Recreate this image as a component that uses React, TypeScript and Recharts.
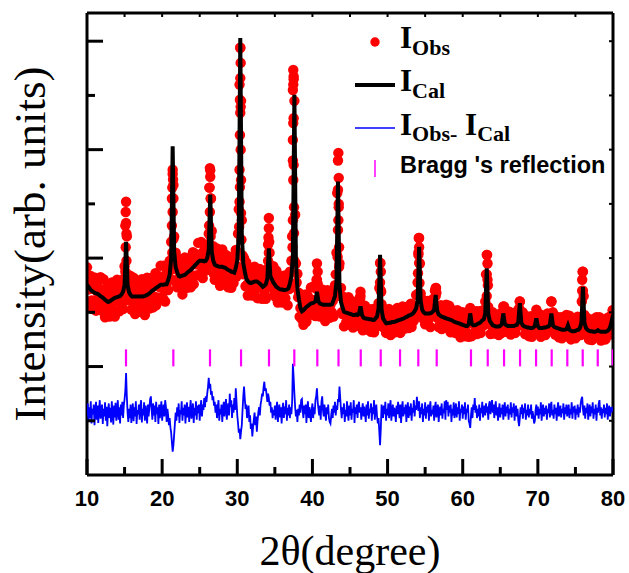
import React from "react";
import { ComposedChart, Line, Scatter, XAxis, YAxis, Legend } from "recharts";

const SERIF = '"Liberation Serif", "Times New Roman", Times, serif';
const SANS = '"Liberation Sans", Arial, Helvetica, sans-serif';
const RED = "#ff0000";
const BLUE = "#0000ff";
const MAGENTA = "#ff00ff";

// calculated profile, one value every 0.2 deg from 10.0 to 80.0
const CAL_START = 10;
const CAL_STEP = 0.2;
const iCal = [
  3.51, 3.47, 3.43, 3.40, 3.38,
  3.36, 3.35, 3.34, 3.32, 3.30,
  3.28, 3.26, 3.23, 3.21, 3.19,
  3.20, 3.22, 3.24, 3.26, 3.27,
  3.28, 3.29, 3.30, 3.33, 3.38,
  3.50, 4.30, 3.50, 3.37, 3.32,
  3.29, 3.29, 3.29, 3.29, 3.29,
  3.29, 3.29, 3.29, 3.30, 3.31,
  3.32, 3.34, 3.36, 3.39, 3.41,
  3.43, 3.45, 3.47, 3.49, 3.51,
  3.51, 3.51, 3.52, 3.52, 3.59,
  3.69, 3.99, 6.06, 4.12, 3.83,
  3.74, 3.67, 3.66, 3.67, 3.68,
  3.69, 3.71, 3.74, 3.76, 3.78,
  3.81, 3.84, 3.87, 3.90, 3.93,
  3.95, 3.95, 3.95, 3.94, 3.95,
  4.00, 4.15, 5.17, 4.12, 3.95,
  3.88, 3.86, 3.85, 3.84, 3.84,
  3.84, 3.83, 3.82, 3.80, 3.78,
  3.77, 3.75, 3.74, 3.73, 3.82,
  3.96, 4.47, 8.06, 4.44, 3.91,
  3.75, 3.62, 3.58, 3.55, 3.54,
  3.55, 3.56, 3.57, 3.57, 3.55,
  3.53, 3.50, 3.47, 3.49, 3.52,
  3.62, 4.18, 3.67, 3.61, 3.55,
  3.51, 3.47, 3.45, 3.43, 3.42,
  3.42, 3.41, 3.41, 3.42, 3.44,
  3.53, 3.66, 4.06, 7.01, 3.96,
  3.44, 3.24, 3.08, 3.02, 3.04,
  3.07, 3.10, 3.12, 3.14, 3.16,
  3.17, 3.18, 3.20, 3.38, 3.20,
  3.16, 3.15, 3.14, 3.14, 3.14,
  3.14, 3.14, 3.14, 3.15, 3.22,
  3.30, 3.56, 5.41, 3.49, 3.19,
  3.09, 3.01, 3.00, 2.99, 2.98,
  2.97, 2.96, 2.95, 2.95, 2.96,
  2.95, 2.97, 3.11, 2.95, 2.90,
  2.89, 2.88, 2.88, 2.87, 2.87,
  2.86, 2.86, 2.89, 2.92, 3.07,
  4.06, 3.05, 2.89, 2.84, 2.80,
  2.80, 2.81, 2.81, 2.82, 2.82,
  2.83, 2.84, 2.85, 2.86, 2.87,
  2.88, 2.89, 2.91, 2.92, 2.94,
  2.95, 2.96, 2.98, 3.02, 3.07,
  3.22, 4.21, 3.21, 3.05, 3.00,
  2.98, 2.98, 2.98, 2.98, 2.99,
  3.01, 3.05, 3.32, 3.03, 2.96,
  2.94, 2.92, 2.91, 2.90, 2.89,
  2.88, 2.87, 2.86, 2.85, 2.83,
  2.82, 2.81, 2.80, 2.79, 2.78,
  2.77, 2.76, 2.75, 2.75, 2.78,
  2.98, 2.79, 2.76, 2.76, 2.77,
  2.79, 2.80, 2.82, 2.85, 2.87,
  2.98, 3.81, 2.97, 2.84, 2.80,
  2.76, 2.75, 2.74, 2.74, 2.74,
  2.75, 2.78, 2.98, 2.79, 2.76,
  2.75, 2.75, 2.75, 2.75, 2.75,
  2.76, 2.77, 2.82, 3.17, 2.81,
  2.76, 2.74, 2.73, 2.72, 2.72,
  2.71, 2.71, 2.72, 2.75, 2.89,
  2.74, 2.71, 2.71, 2.71, 2.72,
  2.72, 2.73, 2.74, 2.77, 2.98,
  2.76, 2.73, 2.72, 2.71, 2.70,
  2.69, 2.68, 2.68, 2.68, 2.69,
  2.76, 2.68, 2.66, 2.65, 2.65,
  2.66, 2.67, 2.68, 2.71, 2.81,
  3.47, 2.81, 2.71, 2.68, 2.66,
  2.65, 2.65, 2.64, 2.64, 2.65,
  2.67, 2.65, 2.64, 2.64, 2.64,
  2.64, 2.65, 2.67, 2.72, 2.82,
  2.95,
];

// observed intensity, one value every 0.1 deg from 10.0 to 80.0
const OBS_START = 10;
const OBS_STEP = 0.1;
const iObs = [
  3.83, 3.42, 3.61, 3.17, 3.43, 3.67, 3.22, 3.46, 3.06, 3.55,
  3.22, 3.64, 3.03, 3.39, 3.55, 3.12, 3.43, 3.27, 3.65, 3.04,
  3.35, 3.02, 3.61, 3.14, 2.91, 3.40, 3.21, 3.48, 3.01, 3.31,
  2.92, 3.35, 3.18, 3.55, 3.06, 3.29, 3.51, 2.92, 3.38, 3.21,
  3.60, 3.22, 3.43, 3.02, 3.30, 3.56, 3.15, 3.42, 3.06, 3.62,
  3.85, 4.60, 5.04, 4.40, 3.70, 3.22, 3.48, 3.30, 3.67, 3.05,
  3.36, 3.04, 3.64, 3.18, 2.97, 3.47, 3.29, 3.57, 3.11, 3.40,
  3.01, 3.43, 3.25, 3.61, 3.11, 3.33, 3.55, 2.95, 3.42, 3.24,
  3.64, 3.26, 3.48, 3.07, 3.36, 3.63, 3.21, 3.47, 3.09, 3.60,
  3.29, 3.72, 3.13, 3.50, 3.68, 3.27, 3.60, 3.46, 3.86, 3.26,
  3.58, 3.26, 3.86, 3.41, 3.20, 3.70, 3.52, 3.84, 3.41, 3.75,
  3.95, 3.62, 4.30, 5.10, 5.55, 5.35, 4.40, 3.80, 4.10, 3.55,
  3.46, 3.85, 3.63, 3.99, 3.48, 3.71, 3.92, 3.33, 3.79, 3.62,
  4.01, 3.63, 3.85, 3.45, 3.74, 4.00, 3.58, 3.84, 3.46, 3.98,
  3.67, 4.11, 3.52, 3.90, 4.08, 3.68, 4.01, 3.88, 4.28, 3.69,
  4.02, 3.70, 4.30, 3.84, 3.63, 4.12, 3.94, 4.22, 3.77, 4.09,
  4.25, 3.85, 4.45, 5.30, 5.62, 5.10, 4.50, 3.95, 4.22, 3.70,
  3.60, 4.01, 3.82, 4.18, 3.67, 3.89, 4.09, 3.49, 3.95, 3.77,
  4.16, 3.77, 3.97, 3.55, 3.82, 4.06, 3.62, 3.86, 3.46, 3.96,
  3.64, 4.02, 3.45, 3.78, 3.94, 3.54, 3.83, 3.75, 4.15, 3.66,
  3.85, 4.45, 4.90, 7.20, 7.88, 6.90, 4.70, 4.05, 3.70, 4.00,
  3.81, 3.48, 3.92, 3.51, 3.31, 3.72, 3.55, 3.79, 3.39, 3.64,
  3.31, 3.68, 3.53, 3.84, 3.42, 3.60, 3.78, 3.26, 3.64, 3.48,
  3.80, 3.46, 3.62, 3.25, 3.47, 3.69, 3.34, 3.57, 3.25, 3.72,
  3.80, 4.25, 4.55, 4.10, 3.65, 3.46, 3.70, 3.55, 3.85, 3.32,
  3.57, 3.28, 3.77, 3.37, 3.18, 3.59, 3.43, 3.67, 3.27, 3.51,
  3.18, 3.54, 3.38, 3.68, 3.26, 3.45, 3.63, 3.13, 3.53, 3.43,
  3.75, 3.45, 3.95, 4.40, 5.80, 7.30, 6.90, 4.80, 3.90, 3.55,
  3.71, 3.28, 3.36, 2.92, 3.08, 3.26, 2.87, 3.09, 2.77, 3.21,
  2.95, 3.33, 2.83, 3.14, 3.30, 2.95, 3.23, 3.12, 3.46, 2.96,
  3.23, 2.97, 3.48, 3.10, 2.93, 3.44, 3.60, 3.53, 3.05, 3.27,
  2.92, 3.28, 3.12, 3.42, 2.99, 3.17, 3.35, 2.84, 3.23, 3.08,
  3.41, 3.08, 3.26, 2.90, 3.14, 3.35, 3.00, 3.21, 2.92, 3.41,
  3.50, 3.70, 4.10, 5.20, 5.80, 5.00, 3.90, 3.30, 3.45, 3.00,
  2.97, 3.29, 2.74, 3.04, 3.18, 2.82, 3.08, 2.96, 3.28, 2.77,
  3.02, 2.79, 3.21, 2.88, 2.72, 3.08, 2.95, 3.16, 2.83, 3.04,
  2.75, 3.06, 2.94, 3.27, 3.30, 3.06, 3.13, 2.67, 2.98, 2.85,
  3.12, 2.84, 2.98, 2.68, 2.88, 3.06, 2.74, 2.92, 2.64, 3.00,
  2.76, 3.06, 2.63, 2.89, 3.01, 2.73, 2.97, 2.88, 3.17, 3.45,
  3.91, 3.40, 3.15, 2.80, 3.05, 2.72, 2.95, 2.82, 2.62, 3.00,
  2.85, 2.62, 3.06, 2.73, 2.58, 2.95, 2.82, 3.02, 2.69, 2.91,
  2.63, 2.94, 2.81, 3.08, 2.72, 2.89, 3.04, 2.62, 2.95, 2.83,
  3.11, 2.84, 2.99, 2.70, 2.91, 3.10, 2.79, 2.98, 2.71, 3.08,
  2.85, 3.16, 2.73, 3.00, 3.13, 2.85, 3.10, 3.02, 3.32, 2.97,
  3.55, 4.10, 4.37, 3.90, 3.35, 3.26, 3.05, 3.22, 2.87, 3.07,
  2.78, 3.08, 2.95, 3.21, 2.85, 3.01, 3.16, 2.73, 3.06, 2.95,
  3.24, 2.98, 3.15, 3.40, 3.45, 3.36, 2.90, 3.05, 2.73, 3.08,
  2.84, 3.13, 2.69, 2.95, 3.06, 2.76, 2.98, 2.87, 3.14, 2.71,
  2.93, 2.70, 3.12, 2.79, 2.63, 2.99, 2.85, 3.04, 2.70, 2.91,
  2.62, 2.92, 2.78, 3.04, 2.67, 2.83, 2.97, 2.54, 2.86, 2.73,
  3.00, 2.72, 2.86, 2.56, 2.75, 2.93, 2.62, 2.82, 2.55, 3.01,
  3.08, 3.00, 2.56, 2.80, 2.91, 2.61, 2.84, 2.74, 3.02, 2.60,
  2.84, 2.64, 3.02, 2.74, 2.62, 2.95, 2.85, 3.04, 2.76, 3.00,
  3.20, 3.70, 4.06, 3.60, 3.10, 2.94, 3.00, 2.60, 2.87, 2.74,
  3.00, 2.76, 2.88, 2.61, 2.78, 2.94, 2.67, 2.82, 2.58, 2.90,
  2.70, 2.99, 2.62, 2.94, 3.11, 2.80, 2.90, 2.80, 3.02, 2.64,
  2.84, 2.63, 3.01, 2.72, 2.59, 2.90, 2.79, 2.97, 2.68, 2.86,
  2.62, 2.90, 2.79, 3.03, 2.75, 3.07, 3.20, 2.95, 2.92, 2.79,
  3.00, 2.75, 2.87, 2.60, 2.77, 2.93, 2.65, 2.80, 2.56, 2.87,
  2.66, 2.93, 2.55, 2.78, 2.89, 2.65, 2.86, 2.84, 3.05, 2.71,
  2.83, 2.61, 2.97, 2.68, 2.55, 2.86, 2.75, 2.94, 2.65, 2.83,
  2.58, 2.86, 2.75, 2.98, 2.67, 2.83, 2.97, 2.95, 3.20, 2.87,
  3.00, 2.75, 2.86, 2.59, 2.76, 2.92, 2.64, 2.79, 2.54, 2.85,
  2.64, 2.91, 2.52, 2.74, 2.85, 2.59, 2.79, 2.71, 2.95, 2.62,
  2.85, 2.60, 2.94, 2.64, 2.50, 2.81, 2.69, 2.87, 2.58, 2.77,
  2.52, 2.80, 2.69, 2.92, 2.61, 2.77, 2.91, 2.58, 2.92, 3.40,
  3.75, 3.30, 2.95, 2.70, 2.85, 2.90, 2.61, 2.75, 2.50, 2.81,
  2.60, 2.87, 2.49, 2.71, 2.81, 2.55, 2.75, 2.67, 2.91, 2.55,
  2.76, 2.54, 2.91, 2.62, 2.48, 2.79, 2.68, 2.86, 2.57, 2.75,
  2.50, 2.78, 2.67, 2.90, 2.60, 2.77, 2.92, 2.59, 2.93, 2.89,
  3.04,
];

// extra observed points on the steep flanks of the peaks [2theta, I]
const obsFlank: [number, number][] = [
  [15.15, 4.85], [15.2, 4.65], [15.25, 4.45], [15.15, 4.2], [15.25, 3.95], [15.1, 3.75], [15.3, 3.6],
  [21.4, 5.63], [21.45, 5.45], [21.35, 5.3], [21.5, 5.1], [21.4, 4.85], [21.3, 4.6], [21.5, 4.35], [21.35, 4.1], [21.55, 3.9],
  [26.35, 5.66], [26.4, 5.5], [26.3, 5.3], [26.45, 5.1], [26.35, 4.85], [26.25, 4.6], [26.45, 4.4], [26.3, 4.15],
  [30.4, 7.88], [30.45, 7.6], [30.4, 7.32], [30.35, 6.92], [30.45, 6.79], [30.4, 6.68], [30.35, 6.27], [30.45, 6.0],
  [30.3, 5.63], [30.5, 5.44], [30.35, 5.31], [30.3, 5.04], [30.5, 4.83], [30.25, 4.58], [30.55, 4.34], [30.2, 4.1],
  [34.2, 4.74], [34.15, 4.38], [34.25, 4.3], [34.2, 4.1], [34.1, 3.95],
  [37.45, 7.47], [37.5, 7.35], [37.45, 7.2], [37.4, 7.1], [37.5, 6.58], [37.45, 6.49], [37.4, 6.18], [37.5, 5.72],
  [37.45, 5.44], [37.55, 4.94], [37.4, 4.7], [37.55, 4.46], [37.35, 4.2], [37.6, 3.95],
  [40.6, 3.9], [40.7, 3.75], [40.55, 3.6],
  [43.45, 5.94], [43.5, 5.48], [43.4, 5.26], [43.5, 4.94], [43.45, 4.7], [43.4, 4.52], [43.55, 4.2], [43.35, 4.02], [43.55, 3.84],
  [46.4, 3.38], [46.35, 3.25],
  [49.05, 3.91], [49.1, 3.75], [49.0, 3.55], [49.15, 3.38],
  [54.15, 4.37], [54.2, 4.2], [54.1, 4.06], [54.2, 3.91], [54.05, 3.72], [54.25, 3.54], [54.1, 3.35],
  [56.45, 3.45], [56.4, 3.3],
  [63.25, 4.06], [63.3, 3.9], [63.2, 3.7], [63.35, 3.5], [63.2, 3.3],
  [65.5, 3.11], [67.6, 3.2], [71.8, 3.2],
  [75.95, 3.75], [75.9, 3.6], [76.0, 3.4], [75.85, 3.2],
  [79.95, 3.04],
];

// difference curve (Obs - Cal, shifted down), one value every 0.1 deg
const iDiff = [
  1.10, 1.32, 0.98, 1.25, 1.05, 1.36, 0.95, 1.22, 1.12, 1.30,
  0.92, 1.18, 1.35, 1.02, 1.28, 0.96, 1.20, 1.38, 1.04, 1.15,
  1.30, 0.94, 1.22, 1.08, 1.34, 1.00, 1.26, 0.90, 1.18, 1.32,
  1.05, 1.24, 0.97, 1.36, 1.12, 0.93, 1.28, 1.06, 1.33, 1.00,
  1.20, 1.38, 1.02, 1.25, 0.95, 1.30, 1.10, 1.35, 1.05, 1.28,
  1.40, 1.55, 1.88, 1.45, 1.15, 0.98, 1.22, 1.05, 1.30, 0.96,
  1.18, 1.32, 0.99, 1.25, 1.08, 1.36, 0.94, 1.20, 1.12, 1.30,
  1.02, 1.26, 1.38, 0.97, 1.22, 1.10, 1.34, 1.00, 1.28, 1.15,
  0.95, 1.30, 1.08, 1.24, 1.40, 1.45, 1.20, 1.02, 1.32, 1.10,
  1.28, 0.98, 1.35, 1.12, 1.25, 0.94, 1.30, 1.05, 1.22, 1.36,
  1.00, 1.18, 1.30, 1.08, 1.38, 1.26, 0.98, 1.22, 1.10, 0.92,
  1.05, 0.88, 0.78, 0.60, 0.43, 0.55, 0.75, 0.95, 1.15, 1.00,
  1.25, 1.08, 1.32, 0.96, 1.20, 1.12, 1.36, 1.00, 1.24, 1.10,
  1.30, 0.95, 1.18, 1.34, 1.06, 1.26, 0.98, 1.22, 1.38, 1.04,
  1.15, 1.32, 0.96, 1.24, 1.10, 1.36, 1.02, 1.28, 1.14, 1.30,
  1.00, 1.25, 1.38, 1.08, 1.30, 1.20, 1.42, 1.25, 1.45, 1.35,
  1.50, 1.62, 1.79, 1.60, 1.68, 1.48, 1.55, 1.38, 1.45, 1.28,
  1.35, 1.15, 1.30, 1.05, 1.25, 1.38, 1.00, 1.22, 1.12, 1.30,
  0.98, 1.20, 1.35, 1.08, 1.28, 1.40, 1.02, 1.18, 1.32, 1.10,
  1.50, 1.25, 1.38, 1.05, 1.30, 1.15, 1.42, 1.20, 1.60, 1.35,
  1.10, 0.95, 0.78, 0.85, 0.66, 0.80, 0.92, 1.20, 1.45, 1.63,
  1.40, 1.22, 1.30, 1.05, 1.18, 1.28, 0.98, 1.10, 0.85, 0.95,
  0.71, 0.88, 1.02, 1.15, 0.92, 1.08, 0.80, 1.00, 1.15, 1.25,
  1.10, 1.30, 1.38, 1.50, 1.45, 1.62, 1.72, 1.55, 1.60, 1.48,
  1.35, 1.50, 1.42, 1.28, 1.35, 1.15, 1.25, 1.05, 1.20, 1.10,
  1.28, 1.02, 1.22, 1.35, 0.98, 1.18, 1.30, 1.06, 1.25, 0.95,
  1.20, 1.33, 1.05, 1.26, 1.12, 1.38, 1.00, 1.24, 1.10, 1.30,
  1.05, 1.25, 1.12, 1.35, 2.05, 1.80, 1.50, 1.25, 1.08, 1.20,
  0.98, 1.22, 1.10, 1.30, 1.15, 1.38, 1.40, 1.20, 1.05, 1.28,
  1.12, 1.30, 0.96, 1.22, 1.36, 1.05, 1.25, 1.15, 0.98, 1.20,
  1.32, 1.05, 1.25, 1.12, 1.38, 1.45, 1.60, 1.35, 1.22, 1.10,
  1.28, 1.02, 1.35, 1.45, 1.20, 1.08, 1.30, 1.15, 1.00, 1.25,
  1.12, 1.30, 1.05, 0.98, 0.95, 1.10, 1.22, 1.05, 1.28, 1.15,
  1.35, 1.10, 1.28, 1.20, 1.40, 1.35, 1.63, 1.42, 1.20, 1.05,
  1.25, 1.12, 1.32, 0.98, 1.20, 1.08, 1.36, 1.15, 1.00, 1.28,
  1.10, 1.34, 1.02, 1.22, 1.15, 1.38, 0.96, 1.25, 1.12, 1.30,
  1.05, 1.28, 1.35, 1.15, 1.25, 1.02, 1.20, 1.32, 1.08, 1.26,
  1.14, 0.98, 1.30, 1.10, 1.36, 1.04, 1.22, 1.15, 1.32, 1.00,
  1.25, 1.12, 1.38, 1.02, 1.20, 1.30, 1.08, 0.95, 1.05, 0.80,
  0.55, 0.85, 1.30, 1.20, 1.05, 1.28, 1.12, 1.35, 1.00, 1.22,
  1.10, 1.32, 1.05, 1.25, 1.38, 1.00, 1.18, 1.30, 1.08, 1.24,
  1.15, 0.98, 1.28, 1.12, 1.35, 1.20, 1.05, 1.30, 0.96, 1.22,
  1.36, 1.08, 1.25, 1.12, 1.30, 0.98, 1.20, 1.34, 1.05, 1.26,
  1.10, 1.32, 1.00, 1.24, 1.15, 1.38, 1.08, 1.28, 1.20, 1.44,
  1.30, 1.18, 1.36, 1.05, 1.25, 1.12, 1.32, 0.98, 1.22, 1.10,
  1.34, 1.04, 1.26, 1.15, 1.30, 1.00, 1.22, 1.36, 1.08, 1.20,
  1.12, 1.28, 1.00, 1.24, 1.35, 1.06, 1.20, 1.30, 0.98, 1.18,
  1.26, 1.10, 1.32, 1.04, 1.22, 1.14, 1.36, 1.02, 1.38, 1.20,
  1.35, 1.08, 1.28, 1.15, 1.30, 0.98, 1.22, 1.10, 1.34, 1.05,
  1.20, 1.32, 1.06, 1.25, 1.12, 1.36, 1.00, 1.22, 1.15, 1.30,
  1.04, 1.26, 1.12, 1.34, 1.02, 1.22, 1.15, 1.30, 1.00, 0.95,
  0.87, 1.10, 1.25, 1.05, 1.30, 1.20, 1.42, 1.15, 1.28, 1.05,
  1.22, 1.08, 1.30, 1.00, 1.24, 1.14, 1.35, 1.06, 1.20, 1.28,
  1.10, 1.32, 1.15, 1.26, 1.02, 1.30, 1.36, 1.12, 1.25, 1.38,
  1.15, 1.30, 1.05, 1.22, 1.36, 1.10, 1.25, 1.00, 1.18, 1.32,
  1.06, 1.24, 1.12, 1.30, 1.02, 1.20, 1.34, 1.08, 1.26, 1.14,
  1.30, 1.02, 1.22, 1.12, 1.34, 1.06, 1.25, 1.15, 1.32, 1.00,
  1.20, 1.28, 1.08, 1.22, 1.00, 0.90, 1.05, 1.25, 1.12, 1.30,
  1.04, 1.24, 1.14, 1.32, 1.02, 1.20, 1.10, 1.30, 1.06, 1.22,
  1.12, 1.30, 1.04, 1.18, 1.08, 0.95, 1.00, 1.20, 1.30, 1.10,
  1.26, 1.04, 1.22, 1.12, 1.34, 1.00, 1.20, 1.30, 1.08, 1.24,
  1.12, 1.28, 1.02, 1.22, 1.14, 1.32, 1.06, 1.26, 1.35, 1.10,
  1.20, 1.04, 1.30, 1.12, 1.24, 1.00, 1.22, 1.34, 1.08, 1.18,
  1.28, 1.06, 1.22, 1.14, 1.32, 1.02, 1.25, 1.12, 1.30, 1.08,
  1.20, 1.30, 1.05, 1.22, 1.12, 1.34, 1.04, 1.26, 1.15, 1.28,
  1.02, 1.22, 1.12, 1.30, 1.06, 1.25, 1.15, 1.32, 1.40, 1.44,
  1.22, 1.10, 1.28, 1.04, 1.24, 1.14, 1.32, 1.02, 1.20, 1.30,
  1.08, 1.26, 1.14, 1.34, 1.04, 1.22, 1.12, 1.30, 1.00, 1.24,
  1.15, 1.32, 1.38, 1.10, 1.25, 1.04, 1.22, 1.14, 1.30, 1.06,
  1.24, 1.12, 1.32, 1.02, 1.20, 1.28, 1.08, 1.25, 1.15, 1.22,
  1.18,
];

// Bragg reflection positions (2theta) and the level where the marks sit
const braggPos = [
  15.19, 21.49, 26.37, 30.5, 34.22, 37.59, 40.65, 43.47, 46.43, 49.09, 51.66, 54.09,
  56.54, 61.1, 63.33, 65.5, 67.63, 69.76, 71.84, 73.92, 75.97, 77.97, 79.96,
];
const BRAGG_LEVEL = 2.16;

const xTicks = [10, 15, 20, 25, 30, 35, 40, 45, 50, 55, 60, 65, 70, 75, 80];
const yTicks = [1, 2, 3, 4, 5, 6, 7, 8];

const at = (start: number, step: number, i: number) => +(start + i * step).toFixed(1);
const calData = iCal.map((y, i) => ({ x: at(CAL_START, CAL_STEP, i), y }));
const obsData = [
  ...iObs.map((y, i) => ({ x: at(OBS_START, OBS_STEP, i), y })),
  ...obsFlank.map(([x, y]) => ({ x, y })),
];
const diffData = iDiff.map((y, i) => ({ x: at(OBS_START, OBS_STEP, i), y }));
const braggData = braggPos.map((x) => ({ x, y: BRAGG_LEVEL }));

const BottomTick = (p: any) => {
  const v = p.payload.value;
  const major = v % 10 === 0;
  return (
    <g>
      <line x1={p.x} x2={p.x} y1={p.y} y2={p.y - (major ? 16 : 8)} stroke="#000" strokeWidth={3} />
      {major && (
        <text x={p.x} y={p.y + 31} textAnchor="middle" fontFamily={SANS} fontWeight="bold" fontSize={22} fill="#000">
          {v}
        </text>
      )}
    </g>
  );
};

const TopTick = (p: any) => (
  <line x1={p.x} x2={p.x} y1={p.y} y2={p.y + 4} stroke="#000" strokeWidth={2} />
);

const LeftTick = (p: any) => {
  const major = p.payload.value % 2 === 0;
  return <line x1={p.x} x2={p.x + (major ? 16 : 8)} y1={p.y} y2={p.y} stroke="#000" strokeWidth={3} />;
};

const RightTick = (p: any) => (
  <line x1={p.x} x2={p.x - 4} y1={p.y} y2={p.y} stroke="#000" strokeWidth={2} />
);

const XTitle = (p: any) => {
  const vb = p.viewBox;
  return (
    <text x={vb.x + vb.width / 2} y={vb.y + 90} textAnchor="middle" fontFamily={SERIF} fontSize={42} fill="#000">
      2θ(degree)
    </text>
  );
};

const YTitle = (p: any) => {
  const vb = p.viewBox;
  const cx = vb.x - 41;
  const cy = vb.y + vb.height / 2;
  return (
    <text x={cx} y={cy} transform={`rotate(-90, ${cx}, ${cy})`} textAnchor="middle" fontFamily={SERIF} fontSize={45} fill="#000">
      Intensity(arb. units)
    </text>
  );
};

const LegendBox = () => (
  <svg width={270} height={170} style={{ overflow: "visible", display: "block" }}>
    <circle cx={25} cy={22} r={4.7} fill={RED} />
    <text x={50} y={28} fontFamily={SERIF} fontWeight="bold" fontSize={31} fill="#000">
      I<tspan fontSize={22} dy={7}>Obs</tspan>
    </text>
    <line x1={5} x2={45} y1={65} y2={65} stroke="#000" strokeWidth={4} />
    <text x={50} y={71} fontFamily={SERIF} fontWeight="bold" fontSize={31} fill="#000">
      I<tspan fontSize={22} dy={7}>Cal</tspan>
    </text>
    <line x1={5} x2={45} y1={108} y2={108} stroke={BLUE} strokeWidth={1.5} />
    <text x={50} y={115} fontFamily={SERIF} fontWeight="bold" fontSize={31} fill="#000">
      I<tspan fontSize={22} dy={6}>Obs-</tspan>
      <tspan dy={-6}> I</tspan>
      <tspan fontSize={22} dy={6}>Cal</tspan>
    </text>
    <line x1={25} x2={25} y1={140} y2={157} stroke={MAGENTA} strokeWidth={1.5} />
    <text x={50} y={153} fontFamily={SANS} fontWeight="bold" fontSize={23.5} fill="#000">
      Bragg 's reflection
    </text>
  </svg>
);

export default function App() {
  return (
    <div style={{ position: "absolute", left: 0, top: 0, width: 629, height: 573, background: "#fff" }}>
      <ComposedChart width={629} height={573} margin={{ top: 12, right: 15, bottom: 97, left: 86 }}>
        <XAxis
          xAxisId={0}
          dataKey="x"
          type="number"
          domain={[10, 80]}
          allowDataOverflow
          ticks={xTicks}
          interval={0}
          height={1}
          tickSize={0}
          tickMargin={0}
          tickLine={false}
          axisLine={{ stroke: "#000", strokeWidth: 3 }}
          tick={<BottomTick />}
          label={(p: any) => <XTitle {...p} />}
        />
        <XAxis
          xAxisId="top"
          orientation="top"
          dataKey="x"
          type="number"
          domain={[10, 80]}
          allowDataOverflow
          ticks={xTicks}
          interval={0}
          height={1}
          tickSize={0}
          tickMargin={0}
          tickLine={false}
          axisLine={{ stroke: "#000", strokeWidth: 3 }}
          tick={<TopTick />}
        />
        <YAxis
          yAxisId={0}
          dataKey="y"
          type="number"
          domain={[0, 8.52]}
          allowDataOverflow
          ticks={yTicks}
          interval={0}
          width={1}
          tickSize={0}
          tickMargin={0}
          tickLine={false}
          axisLine={{ stroke: "#000", strokeWidth: 3 }}
          tick={<LeftTick />}
          label={(p: any) => <YTitle {...p} />}
        />
        <YAxis
          yAxisId="right"
          orientation="right"
          dataKey="y"
          type="number"
          domain={[0, 8.52]}
          allowDataOverflow
          ticks={yTicks}
          interval={0}
          width={1}
          tickSize={0}
          tickMargin={0}
          tickLine={false}
          axisLine={{ stroke: "#000", strokeWidth: 3 }}
          tick={<RightTick />}
        />
        <Scatter
          data={obsData}
          isAnimationActive={false}
          zIndex={400}
          shape={(p: any) => <circle cx={p.cx} cy={p.cy} r={5.2} fill={RED} />}
        />
        <Line
          data={calData}
          dataKey="y"
          type="linear"
          stroke="#000"
          strokeWidth={4}
          dot={false}
          activeDot={false}
          isAnimationActive={false}
          zIndex={700}
        />
        <Line
          data={diffData}
          dataKey="y"
          type="linear"
          stroke={BLUE}
          strokeWidth={1.8}
          dot={false}
          activeDot={false}
          isAnimationActive={false}
          zIndex={700}
        />
        <Scatter
          data={braggData}
          isAnimationActive={false}
          zIndex={700}
          shape={(p: any) => (
            <line x1={p.cx} x2={p.cx} y1={p.cy - 8.5} y2={p.cy + 8.5} stroke={MAGENTA} strokeWidth={2.2} />
          )}
        />
        <Legend
          layout="vertical"
          align="center"
          verticalAlign="middle"
          content={() => <LegendBox />}
          wrapperStyle={{ left: 350, top: 20, width: 270, height: 170 }}
        />
      </ComposedChart>
    </div>
  );
}
